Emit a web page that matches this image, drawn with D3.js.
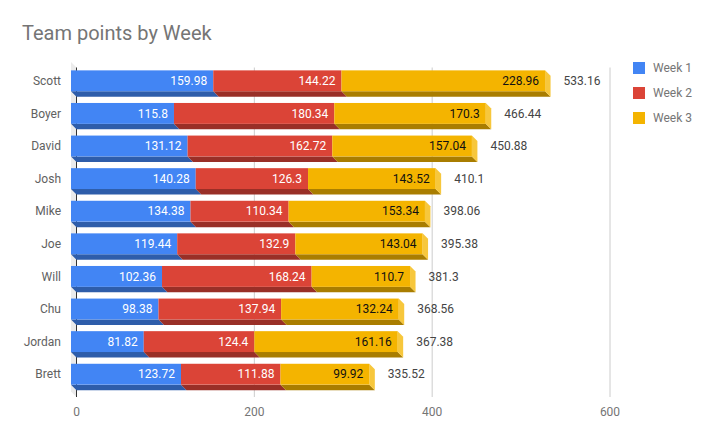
<!DOCTYPE html>
<html>
<head>
<meta charset="utf-8">
<script src="https://cdn.jsdelivr.net/npm/d3@7"></script>
<style>
    body { margin: 0; background: #fff; }
    .chart { width: 714px; height: 441px; }
    text { font-family: Roboto, "Noto Sans", sans-serif; }
</style>
</head>
<body>
<div class="chart"></div>
<script>

//// data

const players = ['Scott','Boyer','David','Josh','Mike','Joe','Will','Chu','Jordan','Brett'];
const week1 = [159.98,115.8,131.12,140.28,134.38,119.44,102.36,98.38,81.82,123.72];
const week2 = [144.22,180.34,162.72,126.3,110.34,132.9,168.24,137.94,124.4,111.88];
const week3 = [228.96,170.3,157.04,143.52,153.34,143.04,110.7,132.24,161.16,99.92];
const seriesNames = ['Week 1','Week 2','Week 3'];
const xTicks = [0,200,400,600];

// front / bottom / side colours for each week
const colors = [
    {front:'#4285f4', bottom:'#2e5daa', side:'#6b9ff6'},
    {front:'#db4437', bottom:'#992f27', side:'#e3695e'},
    {front:'#f4b400', bottom:'#a97d00', side:'#f7c73c'}
];
const textColors = ['#fff','#fff','#111'];

const depth = 5.5; // the fake 3d offset, down and to the right

function drawChart(rootDom){
    const w = rootDom.clientWidth;
    const h = rootDom.clientHeight;

    const svg = d3.select(rootDom)
        .append('svg')
        .attr('width', w)
        .attr('height', h);

    // x scale is on the back plane, the bar fronts get shifted back by depth
    const x = d3.scaleLinear().domain([0,600]).range([76.5,610]);
    const y = d3.scaleBand().domain(players).range([64.5,390.5])
        .paddingInner(0.36).paddingOuter(0.18);
    const bh = y.bandwidth();

    // title
    svg.append('text')
        .attr('x', 22)
        .attr('y', 40)
        .style('font-size','20px')
        .style('fill','#757575')
        .text('Team points by Week');

    // left wall of the box
    const top = 62, bot = 391.5;
    svg.append('polygon')
        .attr('points', [[x(0)-depth,top],[x(0),top+depth],[x(0),bot+depth],[x(0)-depth,bot]].join(' '))
        .style('fill','#ebebeb');

    // gridlines
    svg.append('g')
        .selectAll('line')
        .data(xTicks.filter(d => d != 0))
        .enter().append('line')
        .attr('x1', d => x(d)).attr('x2', d => x(d))
        .attr('y1', top+depth).attr('y2', bot+depth)
        .style('stroke','#cccccc')
        .style('stroke-width','1px');

    svg.append('line')
        .attr('x1', x(0)).attr('x2', x(0))
        .attr('y1', top+depth).attr('y2', bot+depth)
        .style('stroke','#333')
        .style('stroke-width','1px');

    // tick labels
    svg.append('g')
        .selectAll('text')
        .data(xTicks)
        .enter().append('text')
        .attr('x', d => x(d))
        .attr('y', 416)
        .attr('text-anchor','middle')
        .style('font-size','12px')
        .style('fill','#757575')
        .text(d => d);

    // stack the weeks
    const rows = players.map((p,i) => ({name:p, vals:[week1[i],week2[i],week3[i]]}));
    rows.forEach(r => { r.total = +d3.sum(r.vals).toFixed(2); });

    const rowG = svg.append('g').selectAll('.row')
        .data(rows)
        .enter().append('g')
        .attr('class','row');

    rowG.each(function(r){
        const g = d3.select(this);
        const yT = y(r.name);
        const yB = yT + bh;
        let acc = 0;
        r.vals.forEach((v,k) => {
            const xL = x(acc) - depth;
            const xR = x(acc+v) - depth;
            acc += v;
            // bottom face
            g.append('polygon')
                .attr('points', [[xL,yB],[xR,yB],[xR+depth,yB+depth],[xL+depth,yB+depth]].join(' '))
                .style('fill', colors[k].bottom);
            // side face, only the last one shows
            if(k == r.vals.length-1){
                g.append('polygon')
                    .attr('points', [[xR,yT],[xR+depth,yT+depth],[xR+depth,yB+depth],[xR,yB]].join(' '))
                    .style('fill', colors[k].side);
            }
            g.append('rect')
                .attr('x', xL)
                .attr('y', yT)
                .attr('width', xR-xL)
                .attr('height', bh)
                .style('fill', colors[k].front);
            g.append('text')
                .attr('x', xR-6)
                .attr('y', yT+bh/2)
                .attr('dy','0.35em')
                .attr('text-anchor','end')
                .style('font-size','12px')
                .style('fill', textColors[k])
                .text(v);
        });

        // total to the right
        g.append('text')
            .attr('x', x(r.total) + 13)
            .attr('y', yT+bh/2)
            .attr('dy','0.35em')
            .style('font-size','12px')
            .style('fill','#444')
            .text(r.total);

        // name on the left
        g.append('text')
            .attr('x', 61)
            .attr('y', yT+bh/2)
            .attr('dy','0.35em')
            .attr('text-anchor','end')
            .style('font-size','12px')
            .style('fill','#616161')
            .text(r.name);
    });

    // legend
    const leg = svg.append('g').selectAll('.leg')
        .data(seriesNames)
        .enter().append('g')
        .attr('class','leg')
        .attr('transform', (d,i) => `translate(633, ${68 + i*25})`);
    leg.append('rect')
        .attr('x',0).attr('y',-6)
        .attr('width',12).attr('height',12)
        .style('fill', (d,i) => colors[i].front);
    leg.append('text')
        .attr('x', 20)
        .attr('dy','0.35em')
        .style('font-size','12px')
        .style('fill','#757575')
        .text(d => d);
}

drawChart(d3.select('.chart').node());

</script>
</body>
</html>
